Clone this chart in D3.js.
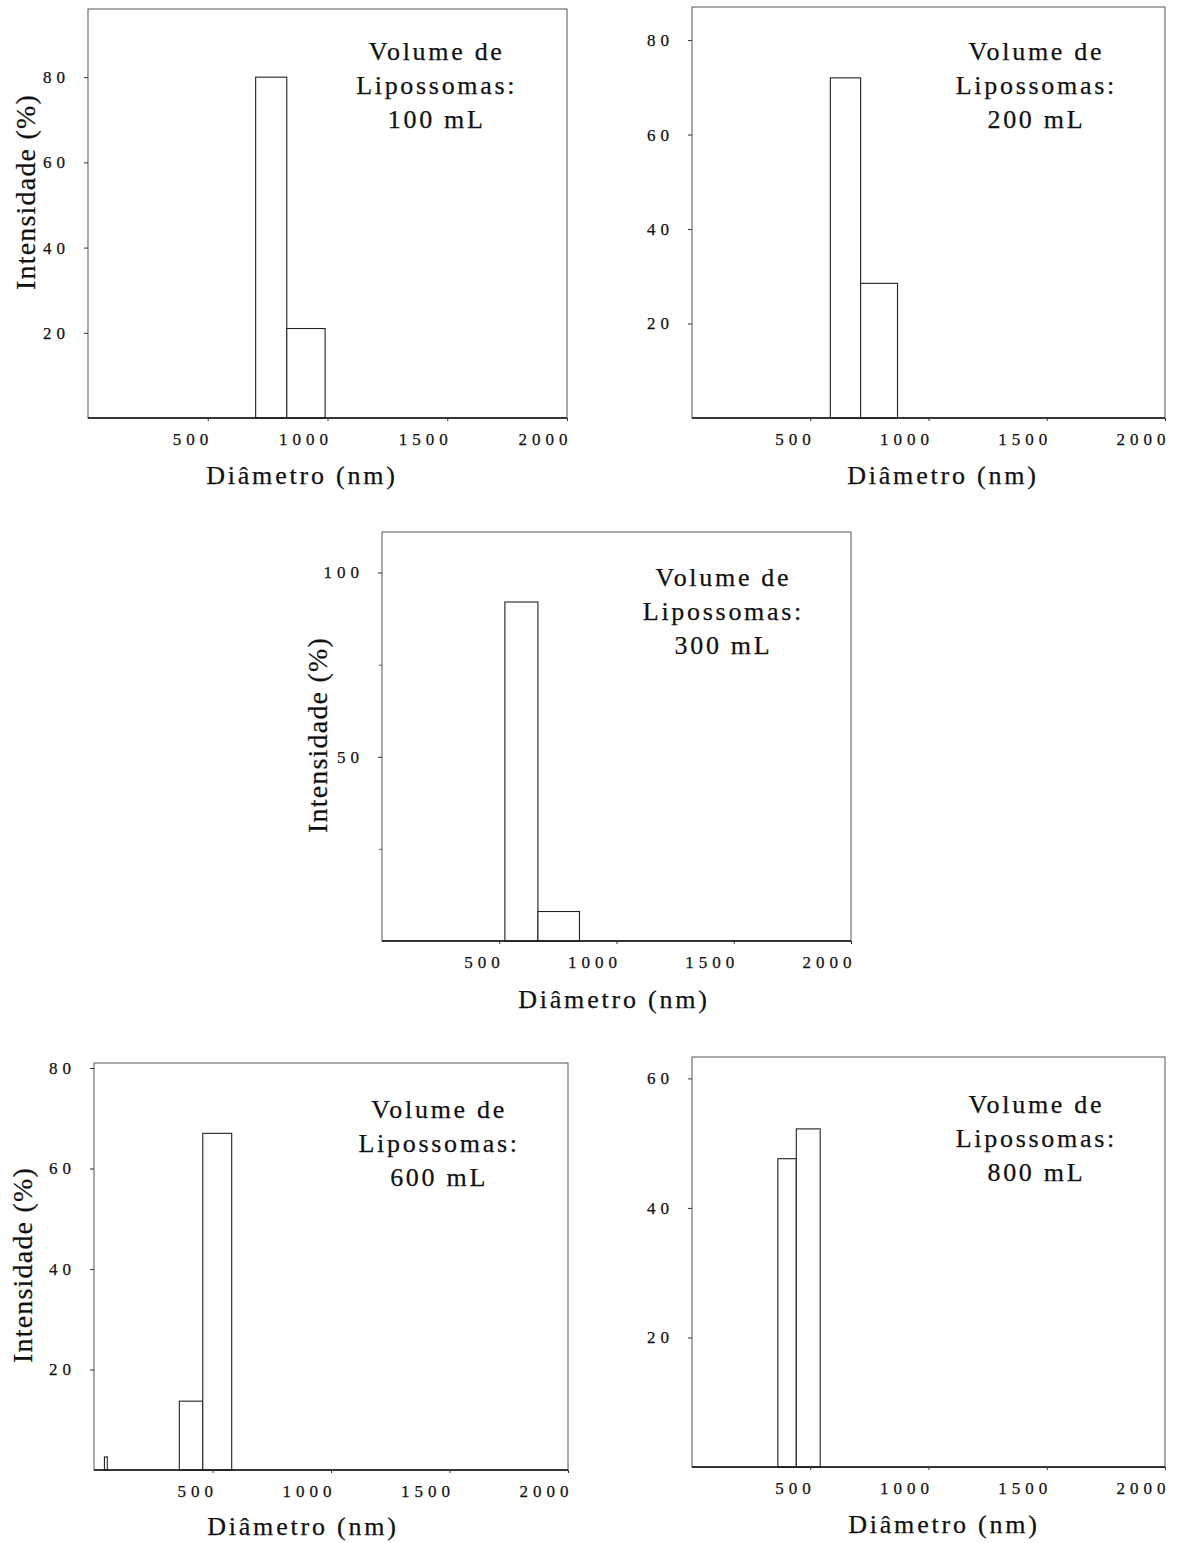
<!DOCTYPE html>
<html>
<head>
<meta charset="utf-8">
<script src="https://cdn.jsdelivr.net/npm/d3@7"></script>
<style>
  body { margin: 0; background: #fff; }
  text { font-family: "Liberation Serif", "Times New Roman", serif; fill: #111; stroke: #111; stroke-width: 0.25px; }
</style>
</head>
<body>
<svg id="fig" width="1180" height="1543"></svg>
<script>
// Distribuição de tamanho (intensidade %) para cada volume de lipossomas
const volumeLabels = ["100 mL", "200 mL", "300 mL", "600 mL", "800 mL"];

// Classes de diâmetro (nm): limite inferior e superior de cada barra
const binLo100 = [700, 830];
const binHi100 = [830, 990];
const intensity100 = [80, 21];

const binLo200 = [585, 713];
const binHi200 = [713, 869];
const intensity200 = [72, 28.5];

const binLo300 = [524, 665];
const binHi300 = [665, 842];
const intensity300 = [92, 8];

const binLo600 = [44, 360, 459];
const binHi600 = [56, 459, 581];
const intensity600 = [2.6, 13.7, 67];

const binLo800 = [363, 441];
const binHi800 = [441, 542];
const intensity800 = [47.6, 52.2];

// Eixos
const xTicks = [500, 1000, 1500, 2000];
const xDomain = [0, 2000];
const yTicks100 = [20, 40, 60, 80];
const yTicks200 = [20, 40, 60, 80];
const yTicks300 = [50, 100];
const yMinor300 = [25, 75];
const yTicks600 = [20, 40, 60, 80];
const yTicks800 = [20, 40, 60];
const yMax = [96, 87, 111, 81, 63.3];

const xTitle = "Diâmetro (nm)";
const yTitle = "Intensidade (%)";
const noteLines = ["Volume de", "Lipossomas:"];

// Posição de cada painel na página
const layout = [
  { x0: 88,  x1: 567,  y0: 9,    y1: 418,  nY: 51, xt: 302, xtY: 484,  yt: true,  ytX: 35,  ytY: 192 },
  { x0: 692, x1: 1165, y0: 7,    y1: 418,  nY: 53, xt: 943, xtY: 484,  yt: false },
  { x0: 382, x1: 851,  y0: 532,  y1: 941,  nY: 54, xt: 614, xtY: 1008, yt: true,  ytX: 327, ytY: 735 },
  { x0: 94,  x1: 568,  y0: 1063, y1: 1470, nY: 55, xt: 303, xtY: 1535, yt: true,  ytX: 32,  ytY: 1265 },
  { x0: 692, x1: 1165, y0: 1057, y1: 1467, nY: 56, xt: 944, xtY: 1533, yt: false }
];

const panelData = [
  { lo: binLo100, hi: binHi100, v: intensity100, yt: yTicks100, minor: [] },
  { lo: binLo200, hi: binHi200, v: intensity200, yt: yTicks200, minor: [] },
  { lo: binLo300, hi: binHi300, v: intensity300, yt: yTicks300, minor: yMinor300 },
  { lo: binLo600, hi: binHi600, v: intensity600, yt: yTicks600, minor: [] },
  { lo: binLo800, hi: binHi800, v: intensity800, yt: yTicks800, minor: [] }
];

const svg = d3.select("#fig");

panelData.forEach((d, i) => {
  const L = layout[i];
  const x = d3.scaleLinear().domain(xDomain).range([L.x0, L.x1]);
  const y = d3.scaleLinear().domain([0, yMax[i]]).range([L.y1, L.y0]);
  const g = svg.append("g");

  // moldura
  g.append("rect")
    .attr("x", L.x0).attr("y", L.y0)
    .attr("width", L.x1 - L.x0).attr("height", L.y1 - L.y0)
    .attr("fill", "none").attr("stroke", "#555").attr("stroke-width", 1);

  // barras do histograma
  const bars = d.v.map((v, k) => ({ lo: d.lo[k], hi: d.hi[k], v }));
  g.selectAll("rect.bar").data(bars).join("rect")
    .attr("class", "bar")
    .attr("x", b => x(b.lo))
    .attr("y", b => y(b.v))
    .attr("width", b => x(b.hi) - x(b.lo))
    .attr("height", b => y(0) - y(b.v))
    .attr("fill", "#fff").attr("stroke", "#222").attr("stroke-width", 1.1);

  // linha de base
  g.append("line")
    .attr("x1", L.x0).attr("x2", L.x1)
    .attr("y1", L.y1).attr("y2", L.y1)
    .attr("stroke", "#111").attr("stroke-width", 1.6);

  // eixo x
  const xAxis = d3.axisBottom(x).tickValues(xTicks).tickSize(3).tickPadding(12).tickFormat(d3.format("d"));
  const gx = g.append("g").attr("transform", `translate(0,${L.y1})`).call(xAxis);
  gx.select(".domain").remove();
  gx.selectAll(".tick line").attr("stroke", "#333");
  gx.selectAll(".tick text")
    .attr("font-size", 17).attr("letter-spacing", "5px")
    .attr("text-anchor", "end").attr("dx", 5)
    .style("font-family", "'Liberation Serif', serif").attr("fill", "#111");

  // eixo y
  const yAxis = d3.axisLeft(y).tickValues(d.yt).tickSize(4).tickPadding(14).tickFormat(d3.format("d"));
  const gy = g.append("g").attr("transform", `translate(${L.x0},0)`).call(yAxis);
  gy.select(".domain").remove();
  gy.selectAll(".tick line").attr("stroke", "#333");
  gy.selectAll(".tick text")
    .attr("font-size", 17).attr("letter-spacing", "5px")
    .style("font-family", "'Liberation Serif', serif").attr("fill", "#111");

  if (d.minor.length) {
    const gm = g.append("g").attr("transform", `translate(${L.x0},0)`)
      .call(d3.axisLeft(y).tickValues(d.minor).tickSize(3).tickFormat(""));
    gm.select(".domain").remove();
    gm.selectAll(".tick line").attr("stroke", "#555");
  }

  // anotação do volume
  const cx = L.x0 + 0.728 * (L.x1 - L.x0);
  const note = g.append("text")
    .attr("text-anchor", "middle")
    .attr("font-size", 26).attr("letter-spacing", "2.7px");
  [...noteLines, volumeLabels[i]].forEach((t, k) => {
    note.append("tspan").attr("x", cx).attr("y", L.y0 + L.nY + k * 34).text(t);
  });

  // título do eixo x
  g.append("text")
    .attr("x", L.xt).attr("y", L.xtY)
    .attr("text-anchor", "middle")
    .attr("font-size", 26).attr("letter-spacing", "2.8px")
    .text(xTitle);

  // título do eixo y
  if (L.yt) {
    g.append("text")
      .attr("transform", `translate(${L.ytX},${L.ytY}) rotate(-90)`)
      .attr("text-anchor", "middle")
      .attr("font-size", 28).attr("letter-spacing", "1.2px")
      .text(yTitle);
  }
});
</script>
</body>
</html>
